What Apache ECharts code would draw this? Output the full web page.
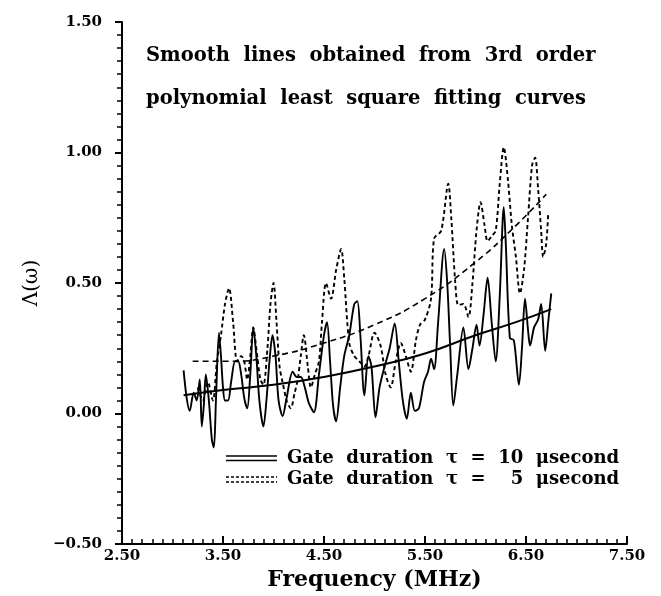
<!DOCTYPE html>
<html>
<head>
<meta charset="utf-8">
<script src="https://cdn.jsdelivr.net/npm/echarts@6/dist/echarts.min.js"></script>
<style>
html, body { margin: 0; background: #fff; }
#chart { width: 661px; height: 596px; }
</style>
</head>
<body>
<div id="chart"></div>
<script>
// measured spectra, gate 10 us (solid) and 5 us (dashed)
var gate10X = [3.11,3.14,3.17,3.21,3.24,3.27,3.29,3.31,3.33,3.36,3.39,3.41,3.43,3.46,3.48,3.50,3.52,3.55,3.58,3.62,3.65,3.68,3.71,3.74,3.77,3.80,3.83,3.86,3.90,3.93,3.96,3.99,4.02,4.05,4.09,4.13,4.19,4.23,4.27,4.31,4.35,4.40,4.45,4.50,4.53,4.56,4.59,4.62,4.66,4.70,4.75,4.80,4.83,4.86,4.90,4.94,4.97,5.01,5.05,5.10,5.15,5.20,5.24,5.28,5.32,5.36,5.40,5.44,5.49,5.53,5.56,5.59,5.63,5.69,5.72,5.75,5.78,5.82,5.88,5.93,5.97,6.01,6.04,6.08,6.12,6.16,6.20,6.24,6.28,6.30,6.34,6.38,6.43,6.46,6.49,6.52,6.54,6.58,6.62,6.65,6.69,6.72,6.75];
var gate10Y = [0.165,0.06,0.01,0.08,0.05,0.13,-0.05,0.03,0.15,0.05,-0.10,-0.13,0.05,0.31,0.22,0.10,0.05,0.05,0.12,0.20,0.20,0.15,0.06,0.02,0.15,0.33,0.22,0.05,-0.05,0.05,0.20,0.30,0.22,0.05,-0.01,0.06,0.16,0.14,0.14,0.10,0.04,0.005,0.15,0.30,0.35,0.20,0.03,-0.03,0.10,0.22,0.30,0.42,0.43,0.30,0.07,0.22,0.18,-0.015,0.10,0.18,0.25,0.345,0.20,0.05,-0.02,0.08,0.01,0.02,0.12,0.16,0.21,0.17,0.35,0.63,0.50,0.25,0.03,0.15,0.33,0.17,0.25,0.34,0.26,0.38,0.52,0.35,0.20,0.45,0.79,0.65,0.29,0.28,0.11,0.25,0.44,0.32,0.26,0.33,0.36,0.42,0.24,0.35,0.46];

var gate5X = [3.25,3.30,3.35,3.40,3.44,3.48,3.52,3.56,3.60,3.64,3.68,3.71,3.74,3.77,3.80,3.83,3.87,3.90,3.94,3.97,4.00,4.03,4.06,4.09,4.13,4.17,4.21,4.24,4.27,4.30,4.34,4.37,4.41,4.45,4.48,4.52,4.57,4.62,4.67,4.70,4.75,4.80,4.85,4.90,4.94,5.00,5.06,5.11,5.16,5.21,5.26,5.31,5.36,5.41,5.45,5.50,5.56,5.59,5.66,5.73,5.76,5.80,5.83,5.88,5.93,5.97,6.01,6.05,6.09,6.12,6.16,6.20,6.24,6.28,6.32,6.36,6.40,6.44,6.48,6.52,6.56,6.59,6.62,6.65,6.67,6.70,6.72];
var gate5Y = [0.10,0.05,0.12,0.05,0.20,0.30,0.42,0.48,0.35,0.20,0.22,0.20,0.13,0.22,0.33,0.25,0.13,0.11,0.25,0.42,0.50,0.35,0.18,0.12,0.05,0.02,0.08,0.13,0.22,0.30,0.18,0.10,0.15,0.20,0.35,0.50,0.44,0.55,0.63,0.52,0.27,0.22,0.20,0.18,0.22,0.31,0.26,0.15,0.10,0.20,0.27,0.22,0.16,0.28,0.34,0.36,0.44,0.67,0.70,0.88,0.75,0.50,0.415,0.42,0.37,0.50,0.70,0.81,0.72,0.66,0.68,0.70,0.88,1.02,0.90,0.72,0.60,0.46,0.55,0.75,0.95,0.98,0.86,0.70,0.60,0.65,0.77];

// 3rd order polynomial fits
var fit10X = [3.11,3.50,4.00,4.50,5.00,5.50,6.00,6.40,6.75];
var fit10Y = [0.07,0.09,0.11,0.14,0.18,0.23,0.30,0.35,0.40];
var fit5X = [3.20,3.60,4.00,4.50,5.00,5.50,6.00,6.40,6.70];
var fit5Y = [0.20,0.20,0.22,0.27,0.34,0.44,0.58,0.72,0.84];

var xRange = [2.5, 7.5];
var yRange = [-0.5, 1.5];

function pairs(xs, ys) {
    var out = [];
    for (var i = 0; i < xs.length; i++) {
        out.push([xs[i], ys[i]]);
    }
    return out;
}

var serif = '"DejaVu Serif", "Liberation Serif", serif';

var chart = echarts.init(document.getElementById('chart'));
var option = {
    backgroundColor: '#fff',
    animation: false,
    grid: { left: 122, right: 34, top: 22, bottom: 52 },
    xAxis: {
        type: 'value',
        min: xRange[0],
        max: xRange[1],
        interval: 1,
        name: 'Frequency (MHz)',
        nameLocation: 'middle',
        nameGap: 22,
        nameTextStyle: { fontFamily: serif, fontWeight: 'bold', fontSize: 22, color: '#000' },
        axisLine: { onZero: false, lineStyle: { color: '#000', width: 2 } },
        axisTick: { inside: true, length: 8, lineStyle: { color: '#000', width: 2 } },
        minorTick: { show: true, splitNumber: 10, length: 5, lineStyle: { color: '#000', width: 1.5 } },
        splitLine: { show: false },
        axisLabel: {
            fontFamily: serif, fontWeight: 'bold', fontSize: 15, color: '#000', margin: 5,
            formatter: function(v) { return v.toFixed(2); }
        }
    },
    yAxis: {
        type: 'value',
        min: yRange[0],
        max: yRange[1],
        interval: 0.5,
        name: 'Λ(ω)',
        nameLocation: 'middle',
        nameGap: 78,
        nameRotate: 90,
        nameTextStyle: { fontFamily: serif, fontSize: 20, color: '#000' },
        axisLine: { show: true, onZero: false, lineStyle: { color: '#000', width: 2 } },
        axisTick: { length: 7, lineStyle: { color: '#000', width: 2 } },
        minorTick: { show: true, splitNumber: 10, length: 5, lineStyle: { color: '#000', width: 1.5 } },
        splitLine: { show: false },
        axisLabel: {
            fontFamily: serif, fontWeight: 'bold', fontSize: 15, color: '#000', margin: 20,
            formatter: function(v) { return v < 0 ? '\u2212' + Math.abs(v).toFixed(2) : v.toFixed(2); }
        }
    },
    graphic: [
        { type: 'text', left: 146, top: 46, style: { text: 'Smooth  lines  obtained  from  3rd  order', font: 'bold 19.5px ' + serif, fill: '#000' } },
        { type: 'text', left: 146, top: 89, style: { text: 'polynomial  least  square  fitting  curves', font: 'bold 19.5px ' + serif, fill: '#000' } },
        // legend samples: doubled lines as in the original figure
        { type: 'line', shape: { x1: 226, y1: 456, x2: 277, y2: 456 }, style: { stroke: '#000', lineWidth: 1.5 } },
        { type: 'line', shape: { x1: 226, y1: 460.5, x2: 277, y2: 460.5 }, style: { stroke: '#000', lineWidth: 1.5 } },
        { type: 'line', shape: { x1: 226, y1: 477, x2: 277, y2: 477 }, style: { stroke: '#000', lineWidth: 1.5, lineDash: [3, 2] } },
        { type: 'line', shape: { x1: 226, y1: 482, x2: 277, y2: 482 }, style: { stroke: '#000', lineWidth: 1.5, lineDash: [3, 2] } },
        { type: 'text', left: 287, top: 449, style: { text: 'Gate  duration  \u03C4  =  10  \u03BCsecond', font: 'bold 18px ' + serif, fill: '#000' } },
        { type: 'text', left: 287, top: 470, style: { text: 'Gate  duration  \u03C4  =  \u20075  \u03BCsecond', font: 'bold 18px ' + serif, fill: '#000' } }
    ],
    series: [
        {
            name: 'gate10', type: 'line', data: pairs(gate10X, gate10Y),
            showSymbol: false, smooth: 0.3,
            lineStyle: { color: '#000', width: 1.9 }
        },
        {
            name: 'gate5', type: 'line', data: pairs(gate5X, gate5Y),
            showSymbol: false, smooth: 0.3,
            lineStyle: { color: '#000', width: 1.9, type: [4, 3] }
        },
        {
            name: 'fit10', type: 'line', data: pairs(fit10X, fit10Y),
            showSymbol: false, smooth: true,
            lineStyle: { color: '#000', width: 2 }
        },
        {
            name: 'fit5', type: 'line', data: pairs(fit5X, fit5Y),
            showSymbol: false, smooth: true,
            lineStyle: { color: '#000', width: 1.6, type: [6, 4] }
        }
    ]
};
chart.setOption(option);
</script>
</body>
</html>
